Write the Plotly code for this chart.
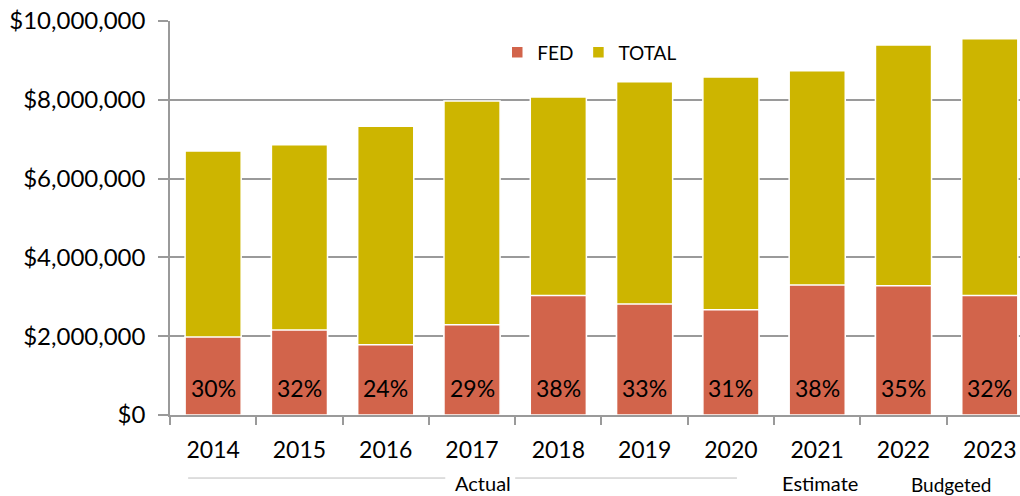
import plotly.graph_objects as go

years = ["2014", "2015", "2016", "2017", "2018", "2019", "2020", "2021", "2022", "2023"]
fed = [1980000, 2160000, 1780000, 2290000, 3030000, 2820000, 2670000, 3300000, 3280000, 3030000]
total = [6700000, 6860000, 7330000, 7970000, 8070000, 8460000, 8580000, 8740000, 9390000, 9550000]
pct_labels = ["30%", "32%", "24%", "29%", "38%", "33%", "31%", "38%", "35%", "32%"]

FONT = "Lato"
FED_COLOR = "#D2644B"
TOTAL_COLOR = "#CDB500"
GRID = "#9A9A9A"

fig = go.Figure()
fig.add_trace(go.Bar(x=years, y=total, name="TOTAL", marker=dict(color=TOTAL_COLOR, line=dict(color="white", width=1.5))))
fig.add_trace(go.Bar(x=years, y=fed, name="FED", marker=dict(color=FED_COLOR, line=dict(color="white", width=1.5))))

annotations = []
for i, lab in enumerate(pct_labels):
    annotations.append(dict(x=i, y=680000, xref="x", yref="y", text=lab, showarrow=False, yanchor="middle",
                            font=dict(family=FONT, size=23, color="black")))

annotations += [
    dict(x=3.13, y=-0.172, xref="x", yref="paper", text="Actual", showarrow=False, yanchor="middle",
         font=dict(family=FONT, size=20, color="black")),
    dict(x=7.03, y=-0.172, xref="x", yref="paper", text="Estimate", showarrow=False, yanchor="middle",
         font=dict(family=FONT, size=20, color="black")),
    dict(x=8.55, y=-0.176, xref="x", yref="paper", text="Budgeted", showarrow=False, yanchor="middle",
         font=dict(family=FONT, size=19, color="black")),
]

shapes = [
    dict(type="line", xref="x", yref="paper", x0=-0.29, x1=2.69, y0=-0.16, y1=-0.16, line=dict(color="#BDBDBD", width=1)),
    dict(type="line", xref="x", yref="paper", x0=3.5, x1=6.07, y0=-0.16, y1=-0.16, line=dict(color="#BDBDBD", width=1)),
]

fig.update_layout(
    width=1020, height=496,
    margin=dict(l=170, r=0, t=21, b=81),
    paper_bgcolor="white", plot_bgcolor="white",
    barmode="overlay", bargap=0.35,
    font=dict(family=FONT, size=23, color="black"),
    legend=dict(orientation="h", x=0.385, y=0.92, xanchor="left", yanchor="middle",
                traceorder="reversed", font=dict(family=FONT, size=19), bgcolor="rgba(0,0,0,0)",
                itemwidth=30),
    annotations=annotations,
    shapes=shapes,
    showlegend=True,
)
fig.update_xaxes(type="category", range=[-0.5, 9.35], showline=True, linecolor=GRID, linewidth=1.5,
                 ticks="outside", tickson="boundaries", ticklen=8, tickcolor=GRID, tickwidth=1.5,
                 ticklabelstandoff=14, showgrid=False, tickfont=dict(family=FONT, size=23))
fig.update_yaxes(range=[0, 10000000], dtick=2000000, tickprefix="$", tickformat=",",
                 showline=True, linecolor=GRID, linewidth=1.5, showgrid=True, gridcolor=GRID, gridwidth=1.5,
                 ticks="outside", ticklen=10, tickcolor=GRID, tickwidth=1.5, ticklabelstandoff=8,
                 zeroline=False, tickfont=dict(family=FONT, size=24))

fig.write_html("out.html", config={"displayModeBar": False},
               post_script="document.body.style.margin='0px';document.body.style.overflow='hidden';")
